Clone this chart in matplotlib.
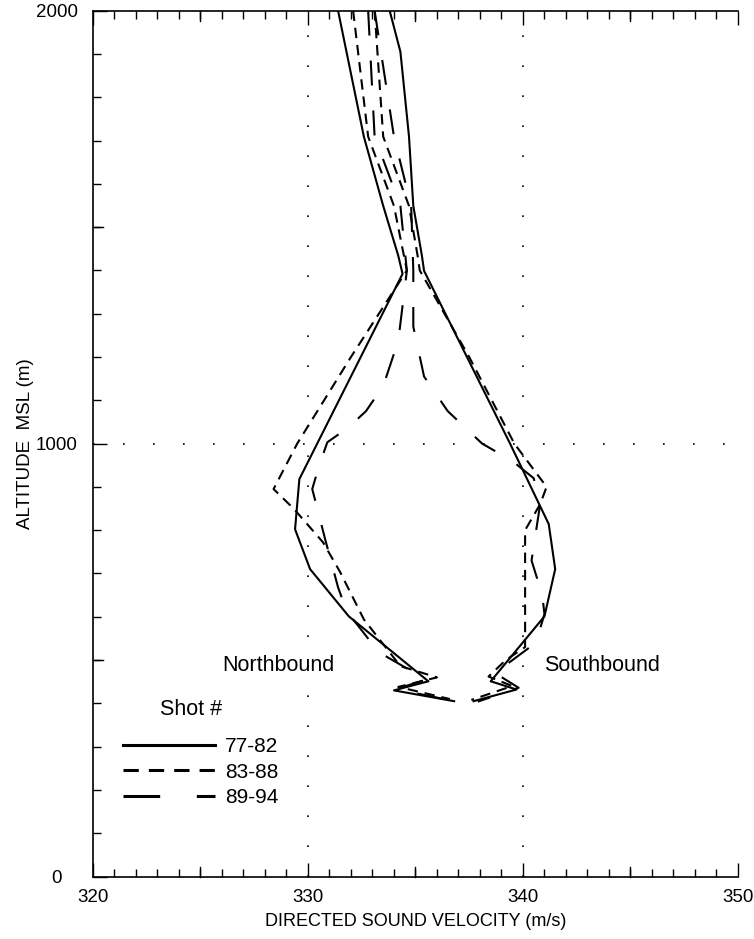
import matplotlib
matplotlib.use("Agg")
import matplotlib.pyplot as plt
from matplotlib.ticker import MultipleLocator

plt.rcParams['font.family'] = ['Liberation Sans', 'DejaVu Sans']

# profiles: (velocity m/s, altitude m)
nb_solid_v = [331.4, 332.6, 333.5, 334.2, 334.4, 329.6, 329.4, 330.1, 331.9, 335.6, 334.0, 336.8]
nb_solid_z = [2000, 1709, 1549, 1434, 1392, 918, 802, 710, 601, 451, 430, 405]
sb_solid_v = [333.8, 334.3, 334.7, 334.9, 335.3, 335.4, 339.4, 341.2, 341.5, 341.0, 338.5, 339.7, 337.7]
sb_solid_z = [2000, 1905, 1709, 1549, 1434, 1399, 1000, 814, 710, 601, 451, 432, 405]

nb_short_v = [332.1, 332.8, 334.0, 334.6, 332.0, 329.5, 328.4, 329.35, 330.7, 331.5, 332.6, 334.3, 336.0, 334.2, 336.6]
nb_short_z = [2000, 1709, 1549, 1400, 1200, 1000, 895, 849, 772, 703, 594, 486, 460, 438, 410]
sb_short_v = [333.1, 333.5, 334.7, 335.1, 335.2, 337.5, 339.6, 341.1, 340.8, 340.1, 340.1, 340.1, 340.1, 339.2, 338.4, 339.5, 337.6]
sb_short_z = [2000, 1709, 1549, 1434, 1400, 1200, 1000, 900, 860, 800, 700, 620, 530, 500, 462, 440, 408]

nb_long_v = [332.8, 333.1, 334.3, 334.6, 334.2, 333.5, 332.7, 331.9, 330.9, 330.5, 330.2, 330.5, 330.8, 331.4, 331.8, 333.3, 335.5, 334.1, 337.0]
nb_long_z = [2000, 1709, 1549, 1399, 1237, 1133, 1075, 1038, 1003, 946, 895, 837, 779, 668, 613, 518, 455, 433, 403]
sb_long_v = [333.1, 334.0, 334.8, 334.9, 334.9, 335.4, 336.5, 338.1, 339.5, 340.5, 340.8, 340.4, 340.9, 341.0, 340.6, 338.7, 339.8, 337.9]
sb_long_z = [2000, 1709, 1549, 1400, 1270, 1155, 1075, 1000, 960, 920, 860, 730, 650, 606, 540, 470, 436, 404]

shot_labels = ['77-82', '83-88', '89-94']

fig = plt.figure(figsize=(7.54, 9.39), dpi=100)
ax = fig.add_axes([0.1233, 0.0665, 0.8554, 0.9222])

lw = 1.5
short = (5, 3.3)
long_ = (12, 12)

ax.plot(nb_solid_v, nb_solid_z, color='black', lw=lw, label=shot_labels[0])
ax.plot(sb_solid_v, sb_solid_z, color='black', lw=lw)
ax.plot(nb_short_v, nb_short_z, color='black', lw=lw, dashes=short, label=shot_labels[1])
ax.plot(sb_short_v, sb_short_z, color='black', lw=lw, dashes=short)
ax.plot(nb_long_v, nb_long_z, color='black', lw=lw, dashes=long_, label=shot_labels[2])
ax.plot(sb_long_v, sb_long_z, color='black', lw=lw, dashes=long_)

ax.set_xlim(320, 350)
ax.set_ylim(0, 2000)

# dotted grid on 330, 340 and 1000 m
for gx in [330, 340]:
    ax.axvline(gx, color='black', lw=1.2, ls=(0, (1, 17)), zorder=0)
ax.axhline(1000, color='black', lw=1.2, ls=(0, (1, 17)), zorder=0)

ax.xaxis.set_major_locator(MultipleLocator(10))
ax.xaxis.set_minor_locator(MultipleLocator(1))
ax.yaxis.set_major_locator(MultipleLocator(1000))
ax.yaxis.set_minor_locator(MultipleLocator(100))
ax.tick_params(which='both', direction='in', top=True, right=False, width=1)
ax.tick_params(which='major', length=10)
ax.tick_params(which='minor', length=6)
ax.tick_params(axis='x', labelsize=13.5, pad=9)
ax.tick_params(axis='y', labelsize=13.5, pad=26)
for t in ax.get_yticklabels():
    t.set_horizontalalignment('center')

# longer ticks every 5 m/s and every 500 m
for v in [325, 335, 345]:
    ax.plot([v, v], [0, 23], color='black', lw=1, clip_on=False)
    ax.plot([v, v], [2000, 1977], color='black', lw=1, clip_on=False)
for z in [500, 1500]:
    ax.plot([320, 320.45], [z, z], color='black', lw=1)

ax.spines['right'].set_visible(False)
for s in ['left', 'bottom', 'top']:
    ax.spines[s].set_linewidth(1.2)

ax.set_xlabel('DIRECTED SOUND VELOCITY (m/s)', fontsize=13)
ax.xaxis.set_label_coords(0.5, -0.042)
ax.set_ylabel('ALTITUDE  MSL (m)', fontsize=13.5)
ax.yaxis.set_label_coords(-0.092, 0.5)

ax.text(326.0, 488, 'Northbound', fontsize=15.5, va='center', ha='left')
ax.text(341.0, 488, 'Southbound', fontsize=15.5, va='center', ha='left')
ax.text(323.1, 386, 'Shot #', fontsize=15.5, va='center', ha='left')

leg = ax.legend(loc='upper left', bbox_to_anchor=(0.0465, 0.161), frameon=False,
                fontsize=15, handlelength=4.4, handletextpad=0.5,
                labelspacing=0.31, borderpad=0, borderaxespad=0)
for h in leg.get_lines():
    h.set_linewidth(2.2)

fig.savefig('out.png', dpi=100)
